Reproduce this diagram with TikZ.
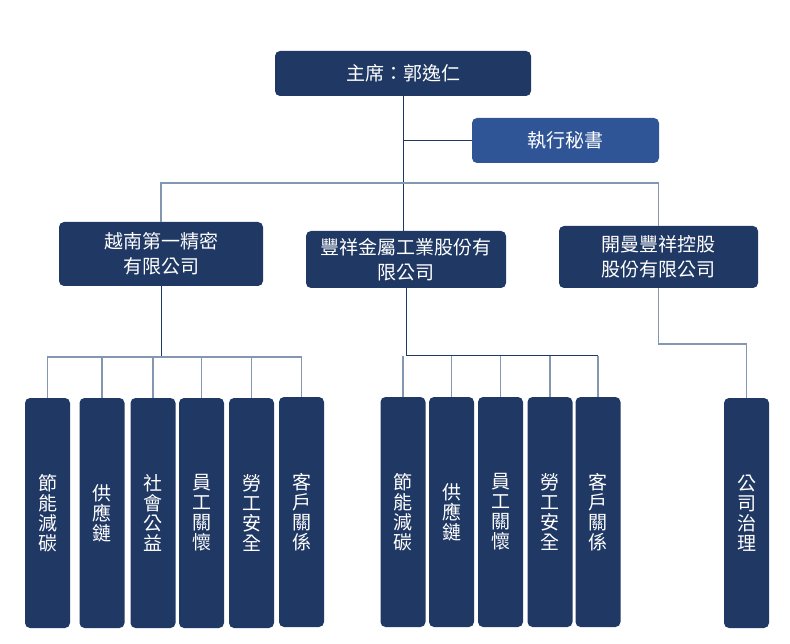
\documentclass[tikz,border=0pt]{standalone}
\usepackage{fontspec}
\usepackage{tikz}
\usetikzlibrary{positioning}
\newfontfamily\cjk{Noto Sans CJK TC}
\definecolor{navy}{HTML}{203864}
\definecolor{secblue}{HTML}{2F5597}
\definecolor{linkdark}{HTML}{1F3864}
\definecolor{linkgray}{HTML}{8497B0}
\tikzset{
  unit/.style={fill=navy, rounded corners=5pt, text=white, align=center, inner sep=0pt,
    font=\cjk\fontsize{19}{25}\selectfont},
  task/.style={unit, minimum width=45pt, minimum height=230pt,
    font=\cjk\fontsize{19}{20}\selectfont},
  link/.style={draw=linkdark, line width=1pt},
  bus/.style={draw=linkgray, line width=1.3pt}
}

\begin{document}
\begin{tikzpicture}[x=1pt,y=-1pt]
            \useasboundingbox (0,0) rectangle (790,644);
            \node[unit,minimum width=256pt,minimum height=45pt](chair) at (403,73.5){主席：郭逸仁};
            \node[unit,fill=secblue,minimum width=187pt,minimum height=45pt](sec) at (565.5,140.5){執行秘書};
            \node[unit,minimum width=204pt,minimum height=64pt](vn) at (161,254){越南第一精密\\有限公司};
            \node[unit,minimum width=200pt,minimum height=57pt](fx) at (406,259.5){豐祥金屬工業股份有\\限公司};
            \node[unit,minimum width=199pt,minimum height=62pt](km) at (658.5,257){開曼豐祥控股\\股份有限公司};
            \coordinate (top) at (0,183);
            \coordinate (vnbus) at (0,357);
            \coordinate (fxbus) at (0,356);
            \coordinate (kmbus) at (0,344);
            % vietnam
            \node[task](v1) at (47.5,513){節\\能\\減\\碳};
            \node[task](v2) at (102,513){供\\應\\鏈};
            \node[task](v3) at (153,513){社\\會\\公\\益};
            \node[task](v4) at (201.5,513){員\\工\\關\\懷};
            \node[task](v5) at (251.5,513){勞\\工\\安\\全};
            \node[task](v6) at (301.5,512){客\\戶\\關\\係};
            % fong shiang
            \node[task](f1) at (403,512){節\\能\\減\\碳};
            \node[task](f2) at (451.5,512){供\\應\\鏈};
            \node[task](f3) at (500.5,512){員\\工\\關\\懷};
            \node[task](f4) at (550,512){勞\\工\\安\\全};
            \node[task](f5) at (598,512){客\\戶\\關\\係};
            % cayman
            \node[task](k1) at (746.5,513){公\\司\\治\\理};
            \path[link](chair.south) edge (chair.south |- fx.north)
                    (chair.south |- sec.west) edge (sec.west);
            \draw[bus] (vn.north) -- (vn.north |- top) -- (km.north |- top) -- (km.north);
            \draw[link] (vn.south) -- (vn.south |- vnbus);
            \draw[bus] (v1.north) -- (v1.north |- vnbus) -- (v6.north |- vnbus) -- (v6.north);
            \path[bus](v2.north) edge (v2.north |- vnbus)
                    (v3.north) edge (v3.north |- vnbus)
                    (v4.north) edge (v4.north |- vnbus)
                    (v5.north) edge (v5.north |- vnbus);
            \draw[link] (fx.south) |- (f5.north |- fxbus);
            \path[bus](f1.north) edge (f1.north |- fxbus)
                    (f2.north) edge (f2.north |- fxbus)
                    (f3.north) edge (f3.north |- fxbus)
                    (f4.north) edge (f4.north |- fxbus)
                    (f5.north) edge (f5.north |- fxbus);
            \draw[bus] (km.south) |- (k1.north |- kmbus) -- (k1.north);
        \end{tikzpicture}
\end{document}
